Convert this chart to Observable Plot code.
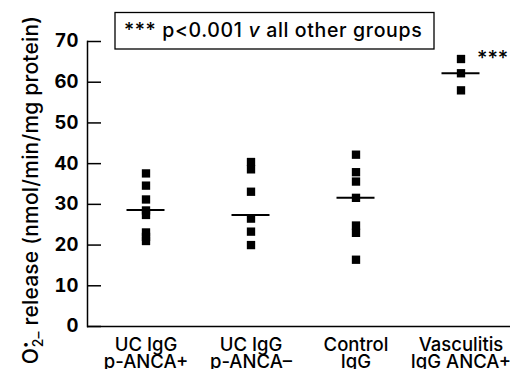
<!DOCTYPE html>
<html><head><meta charset="utf-8">
<script src="https://cdn.jsdelivr.net/npm/d3@7"></script>
<script src="https://cdn.jsdelivr.net/npm/@observablehq/plot@0.6"></script>
<style>body{margin:0;background:#fff} svg{display:block}</style>
</head><body><div id="chart"></div>
<script>
// ---- data ----
const groups = ["UC IgG\np-ANCA+", "UC IgG\np-ANCA–", "Control\nIgG", "Vasculitis\nIgG ANCA+"];
const ucPos = [37.6, 34.6, 31.2, 28.5, 27.4, 23.1, 22.0, 21.0];
const ucNeg = [40.4, 38.6, 33.1, 26.5, 23.3, 20.0];
const control = [42.2, 37.9, 35.6, 31.6, 24.8, 23.0, 16.4];
const vasculitis = [65.7, 62.2, 58.0];
const medians = [28.6, 27.4, 31.6, 62.2];
const yTicks = [0, 10, 20, 30, 40, 50, 60, 70];
const sigMark = "***";
const noteParts = ["*** p<0.001 ", "v", " all other groups"];
const yLabelParts = ["O", "•", "2–", " release (nmol/min/mg protein)"];

const series = [ucPos, ucNeg, control, vasculitis];
const points = series.flatMap((vals, i) => vals.map(v => ({group: groups[i], value: v})));
const medianRows = groups.map((g, i) => ({group: g, value: medians[i]}));
const sigRows = [{group: groups[3], value: d3.max(vasculitis)}];

// ---- layout ----
const W = 510, H = 369, mL = 87, mR = 0, mT = 41, mB = 43;
const FONT = "Inter, 'DejaVu Sans', sans-serif";
const STEP = 105, MEDIAN_LEN = 38;

const plot = Plot.plot({
  width: W, height: H,
  marginLeft: mL, marginRight: mR, marginTop: mT, marginBottom: mB,
  style: {fontFamily: FONT, background: "#fff", color: "#000", overflow: "visible"},
  x: {type: "band", domain: groups, range: [145 - STEP / 2, 145 - STEP / 2 + 4 * STEP], padding: 0, label: null},
  y: {domain: [0, 70], label: null},
  marks: [
    Plot.frame({anchor: "left", strokeWidth: 1.5}),
    Plot.ruleY([0], {strokeWidth: 1.5}),
    Plot.ruleY(yTicks, {y: d => d, insetRight: W - mL - mR - 14, strokeWidth: 1.5}),
    Plot.axisY({ticks: yTicks, tickSize: 0, tickPadding: 9, fontSize: 18.5, fontWeight: "bold", label: null}),
    Plot.axisX({tickSize: 0, tickPadding: 13, fontSize: 18.5, fontWeight: 500, lineHeight: 0.9, label: null}),
    Plot.dot(points, {x: "group", y: "value", symbol: "square", r: 4.7, fill: "#000", stroke: null}),
    Plot.tickY(medianRows, {x: "group", y: "value", inset: (STEP - MEDIAN_LEN) / 2, strokeWidth: 2}),
    Plot.text(sigRows, {x: "group", y: "value", text: () => sigMark, dx: 16, dy: 0, textAnchor: "start", fontSize: 20, fontWeight: 500})
  ]
});

const svg = d3.select(plot);
// note box
const g = svg.append("g");
g.append("rect").attr("x", 115).attr("y", 12.5).attr("width", 319).attr("height", 36.5)
  .attr("fill", "#fff").attr("stroke", "#000").attr("stroke-width", 1.3);
const t = g.append("text").attr("x", 124).attr("y", 37).attr("font-size", 19.5)
  .attr("text-anchor", "start").attr("letter-spacing", 0.65)
  .attr("font-family", FONT).attr("font-weight", 500).attr("fill", "#000");
t.append("tspan").text(noteParts[0]);
t.append("tspan").attr("font-style", "italic").text(noteParts[1]);
t.append("tspan").text(noteParts[2]);

// y label
const yl = svg.append("text").attr("transform", "translate(37.5,190) rotate(-90)")
  .attr("text-anchor", "middle").attr("font-size", 21).attr("letter-spacing", 0.2).attr("font-family", FONT)
  .attr("font-weight", 500).attr("fill", "#000");
yl.append("tspan").text(yLabelParts[0]);
yl.append("tspan").attr("font-size", 12).attr("dy", -9).text(yLabelParts[1]);
yl.append("tspan").attr("font-size", 14).attr("dx", -6).attr("dy", 14).text(yLabelParts[2]);
yl.append("tspan").attr("dy", -5).text(yLabelParts[3]);

document.getElementById("chart").appendChild(plot);
</script>
</body></html>
